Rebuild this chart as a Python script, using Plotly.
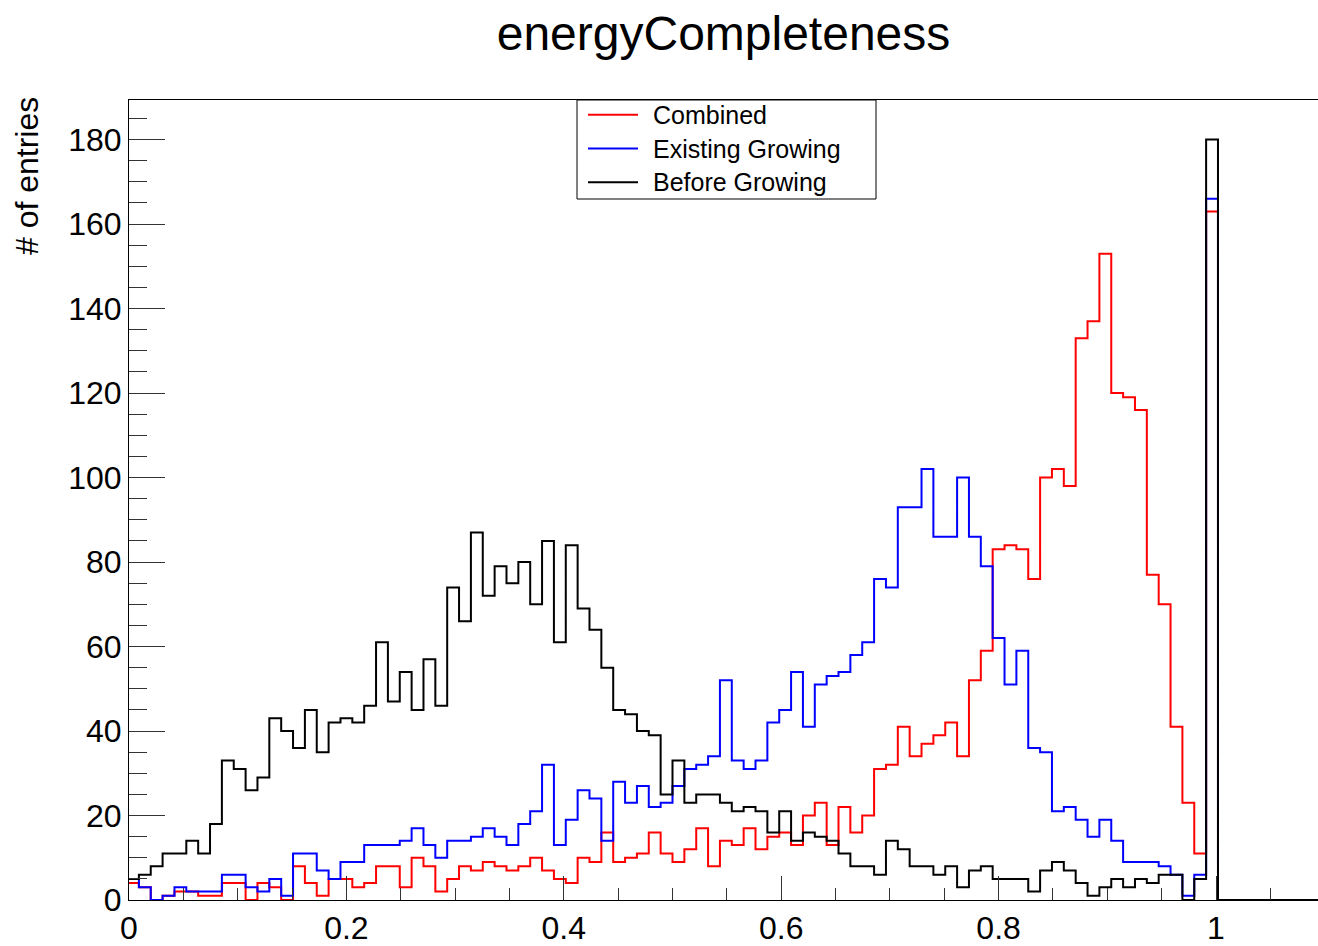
import numpy as np
import plotly.graph_objects as go

# Histogram binning: 110 bins on [-0.1, 1.1]; bin 9 is the one holding x = 0
N_BINS, X_LO, X_HI = 110, -0.1, 1.1
FIRST_BIN = 9

# Bin contents, starting at the bin that holds x = 0
combined = [4, 3, 0, 1, 2, 2, 1, 1, 4, 4,
            0, 4, 3, 0, 8, 4, 1, 5, 5, 3,
            4, 8, 8, 3, 10, 8, 2, 5, 8, 7,
            9, 8, 7, 8, 10, 7, 5, 4, 10, 9,
            16, 9, 10, 11, 16, 11, 9, 12, 17, 8,
            14, 13, 17, 12, 15, 16, 13, 20, 23, 13,
            22, 16, 20, 31, 32, 41, 34, 37, 39, 42,
            34, 52, 59, 83, 84, 83, 76, 100, 102, 98,
            133, 137, 153, 120, 119, 116, 77, 70, 41, 23,
            11, 163]

existing_growing = [5, 3, 0, 1, 3, 2, 2, 2, 6, 6,
                    3, 2, 5, 1, 11, 11, 7, 5, 9, 9,
                    13, 13, 13, 14, 17, 13, 10, 14, 14, 15,
                    17, 15, 13, 18, 21, 32, 13, 19, 26, 24,
                    14, 28, 23, 27, 22, 23, 27, 31, 32, 34,
                    52, 33, 31, 33, 42, 45, 54, 41, 51, 53,
                    54, 58, 61, 76, 74, 93, 93, 102, 86, 86,
                    100, 86, 79, 62, 51, 59, 36, 35, 21, 22,
                    19, 15, 19, 14, 9, 9, 9, 8, 6, 1,
                    6, 166]

before_growing = [5, 6, 8, 11, 11, 14, 11, 18, 33, 31,
                  26, 29, 43, 40, 36, 45, 35, 42, 43, 42,
                  46, 61, 47, 54, 45, 57, 46, 74, 66, 87,
                  72, 79, 75, 80, 70, 85, 61, 84, 69, 64,
                  55, 45, 44, 40, 39, 25, 33, 23, 25, 25,
                  23, 21, 22, 21, 16, 21, 14, 16, 15, 14,
                  11, 8, 8, 6, 14, 12, 8, 8, 6, 8,
                  3, 7, 8, 5, 5, 5, 2, 7, 9, 7,
                  4, 1, 3, 5, 3, 5, 4, 6, 6, 0,
                  5, 180]

series = [("Combined", combined, "#ff0000"),
          ("Existing Growing", existing_growing, "#0000ff"),
          ("Before Growing", before_growing, "#000000")]

edges = np.linspace(X_LO, X_HI, N_BINS + 1)


def full_contents(vals):
    h = np.zeros(N_BINS)
    h[FIRST_BIN:FIRST_BIN + len(vals)] = vals
    return h


# Page geometry (pixels)
W, H = 1318, 946
ML, MR, MT, MB = 129, 0, 100, 38
PW, PH = W - ML - MR, H - MT - MB
X_MAX = PW / 1087.0          # 1087 px per unit on x
Y_MAX = PH / (768.0 / 180)   # 768 px for 180 entries


def px(x):
    return (x - ML) / PW


def py(y):
    return (H - MB - y) / PH


FONT = "Liberation Sans, Arial, Helvetica, sans-serif"

fig = go.Figure()
for name, vals, color in series:
    h = full_contents(vals)
    fig.add_trace(go.Scatter(
        x=edges, y=np.append(h, h[-1]),
        mode="lines", line=dict(color=color, width=2, shape="hv"),
        name=name, showlegend=False, hoverinfo="skip"))

axis_common = dict(
    showgrid=False, zeroline=False, showline=True,
    linecolor="black", linewidth=1,
    ticks="inside", tickcolor="#333333", tickwidth=1,
    tickfont=dict(family=FONT, size=32, color="black"),
)

fig.update_xaxes(range=[0, X_MAX], dtick=0.2, tick0=0, ticklen=24,
                 mirror=True,
                 minor=dict(ticks="inside", dtick=0.05, ticklen=12,
                            tickcolor="#333333", tickwidth=1),
                 **axis_common)
fig.update_yaxes(range=[0, Y_MAX], dtick=20, tick0=0, ticklen=36,
                 minor=dict(ticks="inside", dtick=5, ticklen=18,
                            tickcolor="#333333", tickwidth=1),
                 **axis_common)

# Legend box drawn by hand
lx0, lx1, ly0, ly1 = 577, 876, 100, 200
shapes = [dict(type="rect", xref="paper", yref="paper",
               x0=px(lx0), x1=px(lx1), y0=py(ly1), y1=py(ly0),
               line=dict(color="black", width=1), fillcolor="white",
               layer="above")]
annotations = []
for i, (name, _, color) in enumerate(series):
    yy = 115 + 34 * i
    shapes.append(dict(type="line", xref="paper", yref="paper",
                       x0=px(588), x1=px(638), y0=py(yy), y1=py(yy),
                       line=dict(color=color, width=2), layer="above"))
    annotations.append(dict(xref="paper", yref="paper", x=px(651), y=py(yy),
                            xanchor="left", yanchor="middle", showarrow=False,
                            text=name, font=dict(family=FONT, size=25, color="black")))

# Y axis title, aligned with the top of the axis
annotations.append(dict(xref="paper", yref="paper", x=px(27), y=py(95),
                        xanchor="center", yanchor="top", showarrow=False,
                        textangle=-90, text="# of entries",
                        font=dict(family=FONT, size=32, color="black")))

fig.update_layout(
    width=W, height=H,
    margin=dict(l=ML, r=MR, t=MT, b=MB, pad=0),
    paper_bgcolor="white", plot_bgcolor="white",
    title=dict(text="energyCompleteness", x=0.5, xref="paper",
               y=1 - 33 / H, yref="container", yanchor="middle",
               font=dict(family=FONT, size=48, color="black")),
    shapes=shapes, annotations=annotations,
    showlegend=False,
)

fig.write_html("out.html")
